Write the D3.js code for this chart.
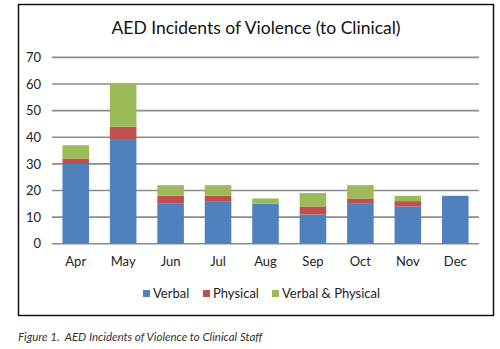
<!DOCTYPE html>
<html>
<head>
<meta charset="utf-8">
<script src="https://cdn.jsdelivr.net/npm/d3@7"></script>
<style>
  body { margin: 0; background: #fff; }
  svg text { font-family: Lato, "Open Sans", sans-serif; }
</style>
</head>
<body>
<div id="chart"></div>
<script>
var months = ["Apr", "May", "Jun", "Jul", "Aug", "Sep", "Oct", "Nov", "Dec"];
var verbal = [30, 39, 15, 16, 15, 11, 15, 14, 18];
var physical = [2, 5, 3, 2, 0, 3, 2, 2, 0];
var verbalPhysical = [5, 16, 4, 4, 2, 5, 5, 2, 0];
var seriesNames = ["Verbal", "Physical", "Verbal & Physical"];
var seriesColors = ["#4f81bd", "#c0504d", "#9bbb59"];
var yTicks = [0, 10, 20, 30, 40, 50, 60, 70];

var width = 500,
	height = 349;

var svg = d3.select("#chart").append("svg")
	.attr("width", width)
	.attr("height", height);

// chart frame
svg.append("rect")
	.attr("x", 18.5)
	.attr("y", 4.5)
	.attr("width", 475)
	.attr("height", 311)
	.attr("fill", "#fff")
	.attr("stroke", "#111")
	.attr("stroke-width", 1.5);

svg.append("text")
	.attr("x", 256)
	.attr("y", 34)
	.attr("text-anchor", "middle")
	.attr("font-size", 17.5)
	.attr("fill", "#111")
	.text("AED Incidents of Violence (to Clinical)");

var x = d3.scaleBand()
	.domain(months)
	.range([52, 479])
	.paddingInner(0.44)
	.paddingOuter(0.22);

var y = d3.scaleLinear()
	.domain([0, 70])
	.range([243.7, 57.4]);

// grid lines
svg.append("g").selectAll("line")
	.data(yTicks)
	.enter().append("line")
	.attr("x1", 52)
	.attr("x2", 479)
	.attr("y1", d => y(d))
	.attr("y2", d => y(d))
	.attr("stroke", "#8c8c8c")
	.attr("stroke-width", 1.6);

var yAxis = svg.append("g")
	.attr("transform", "translate(52,0)")
	.call(d3.axisLeft(y).tickValues(yTicks).tickSize(0).tickPadding(11));
yAxis.select(".domain").remove();
yAxis.selectAll("text")
	.attr("font-size", 13)
	.attr("fill", "#222")
	.style("font-family", "Lato, sans-serif");

var xAxis = svg.append("g")
	.attr("transform", "translate(0,243.7)")
	.call(d3.axisBottom(x).tickSize(0).tickPadding(13));
xAxis.select(".domain").remove();
xAxis.selectAll("text")
	.attr("font-size", 13)
	.attr("fill", "#222")
	.style("font-family", "Lato, sans-serif");

var table = months.map(function(m, i) {
	return { month: m, "Verbal": verbal[i], "Physical": physical[i], "Verbal & Physical": verbalPhysical[i] };
});

var stack = d3.stack().keys(seriesNames);

svg.append("g").selectAll("g")
	.data(stack(table))
	.enter().append("g")
	.attr("fill", (d, i) => seriesColors[i])
	.selectAll("rect")
	.data(d => d)
	.enter().append("rect")
	.attr("x", d => x(d.data.month))
	.attr("width", x.bandwidth())
	.attr("y", d => y(d[1]))
	.attr("height", d => y(d[0]) - y(d[1]));

// legend
var legendX = [143, 203, 272];
var legend = svg.append("g").selectAll("g")
	.data(seriesNames)
	.enter().append("g")
	.attr("transform", (d, i) => "translate(" + legendX[i] + ",290)");
legend.append("rect")
	.attr("width", 7)
	.attr("height", 7)
	.attr("fill", (d, i) => seriesColors[i]);
legend.append("text")
	.attr("x", 10)
	.attr("y", 8)
	.attr("font-size", 13)
	.attr("fill", "#222")
	.text(d => d);

svg.append("text")
	.attr("x", 18)
	.attr("y", 341)
	.attr("font-size", 11.5)
	.attr("font-style", "italic")
	.attr("fill", "#333")
	.attr("xml:space", "preserve")
	.text("Figure 1.  AED Incidents of Violence to Clinical Staff");
</script>
</body>
</html>
